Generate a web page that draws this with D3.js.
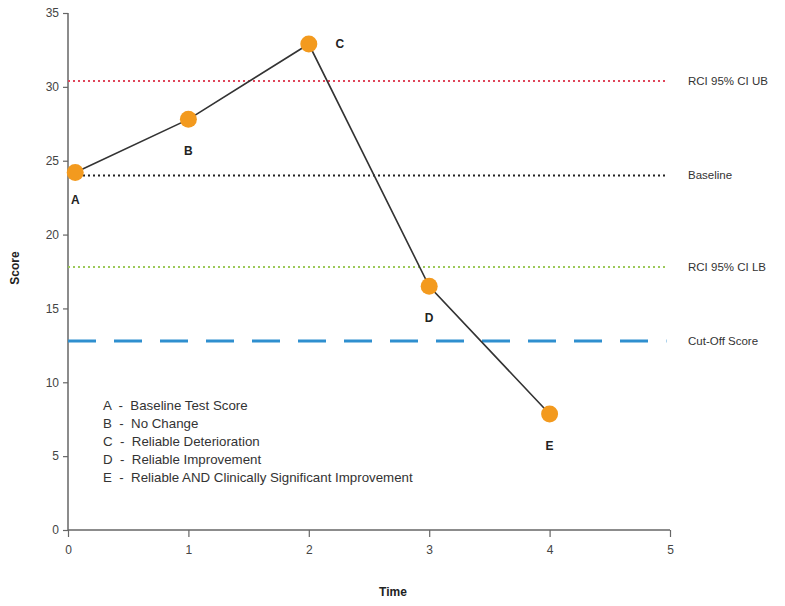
<!DOCTYPE html>
<html><head><meta charset="utf-8">
<script src="https://cdn.jsdelivr.net/npm/d3@7"></script>
<style>body{margin:0;background:#fff}svg{display:block;font-family:"Liberation Sans",Arial,sans-serif}</style>
</head><body><svg id="c" width="785" height="606"></svg>
<script>
const pointLabels = ["A","B","C","D","E"];
const times = [0.06, 1, 2, 3, 4];
const scores = [24.2, 27.8, 32.9, 16.5, 7.85];
const refNames = ["RCI 95% CI UB","Baseline","RCI 95% CI LB","Cut-Off Score"];
const refValues = [30.4, 24.0, 17.8, 12.8];
const refColors = ["#e0455a","#222222","#9cc95a","#2f8fcf"];
const legendLines = ["A  -  Baseline Test Score","B  -  No Change","C  -  Reliable Deterioration","D  -  Reliable Improvement","E  -  Reliable AND Clinically Significant Improvement"];
const xTicks = [0,1,2,3,4,5];
const yTicks = [0,5,10,15,20,25,30,35];

const svg = d3.select("#c");
const x = d3.scaleLinear().domain([0,5]).range([68,670]);
const y = d3.scaleLinear().domain([0,35]).range([530,13]);

// axes
const gx = svg.append("g").attr("transform","translate(0,530)")
  .call(d3.axisBottom(x).tickValues(xTicks).tickSize(7).tickPadding(8).tickFormat(d3.format("d")));
const gy = svg.append("g").attr("transform","translate(68,0)")
  .call(d3.axisLeft(y).tickValues(yTicks).tickSize(5).tickPadding(4).tickFormat(d3.format("d")));
[gx,gy].forEach(g=>{
  g.select(".domain").attr("stroke","#666").attr("stroke-width",1.5);
  g.selectAll(".tick line").attr("stroke","#666").attr("stroke-width",1.2);
  g.selectAll(".tick text").attr("fill","#444").style("font-size","12px");
});
gy.select(".domain").attr("d","M0,13V530");
gx.select(".domain").attr("d","M68,0H670");

// reference lines
const dashes = ["2,3","2,3","2,3","28,18"];
const widths = [2,2,2,3];
refValues.forEach((v,i)=>{
  svg.append("line").attr("x1",x(0)).attr("x2",x(4.97)).attr("y1",y(v)).attr("y2",y(v))
    .attr("stroke",refColors[i]).attr("stroke-width",widths[i]).attr("stroke-dasharray",dashes[i]);
  svg.append("text").attr("x",688).attr("y",y(v)+4).text(refNames[i])
    .attr("fill","#333").style("font-size","11.5px");
});

// line + points
const pts = times.map((t,i)=>({t, s:scores[i], l:pointLabels[i]}));
svg.append("path").datum(pts)
  .attr("d", d3.line().x(d=>x(d.t)).y(d=>y(d.s)))
  .attr("fill","none").attr("stroke","#333").attr("stroke-width",1.6);
svg.selectAll("circle.p").data(pts).join("circle")
  .attr("cx",d=>x(d.t)).attr("cy",d=>y(d.s)).attr("r",8.5).attr("fill","#f39a1e");

const off = [[0,27],[0,32],[31,0],[0,32],[0,32]];
svg.selectAll("text.pl").data(pts).join("text")
  .attr("x",(d,i)=>x(d.t)+off[i][0]).attr("y",(d,i)=>y(d.s)+off[i][1]+4)
  .attr("text-anchor","middle").attr("font-weight","bold").attr("fill","#222")
  .style("font-size","12px").text(d=>d.l);

// legend text
legendLines.forEach((t,i)=>{
  svg.append("text").attr("x",103).attr("y",410+i*18).text(t).attr("fill","#333").style("font-size","13.3px").style("white-space","pre");
});

// axis titles
svg.append("text").attr("x",393).attr("y",596).attr("text-anchor","middle").attr("font-weight","bold")
  .attr("fill","#222").style("font-size","12px").text("Time");
svg.append("text").attr("transform","translate(19,268) rotate(-90)").attr("text-anchor","middle")
  .attr("font-weight","bold").attr("fill","#222").style("font-size","12px").text("Score");
</script></body></html>
